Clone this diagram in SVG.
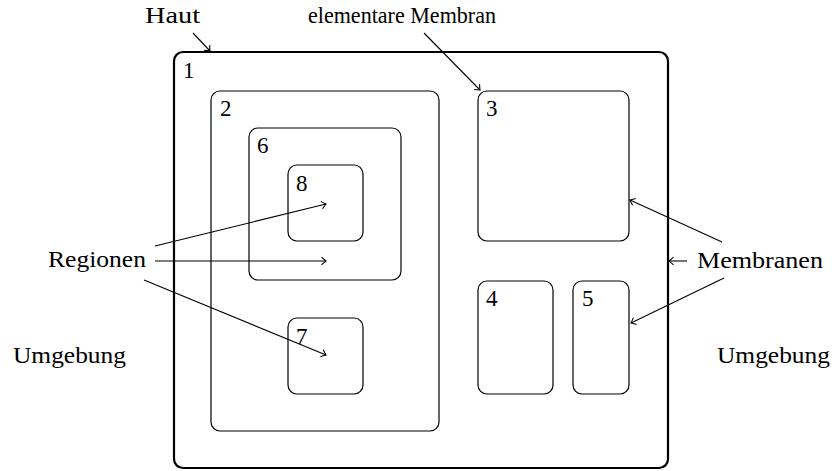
<svg xmlns="http://www.w3.org/2000/svg" width="832" height="471" viewBox="0 0 832 471">
<defs>
<style>
text{font-family:"Liberation Serif","DejaVu Serif",serif;font-size:23px;fill:#000}
.m{fill:none;stroke:#000;stroke-width:1.2}
.o{fill:none;stroke:#000;stroke-width:2.2}
.c{fill:none;stroke:#000;stroke-width:1.1;marker-end:url(#ah)}
</style>
<marker id="ah" markerUnits="userSpaceOnUse" markerWidth="12" markerHeight="12" refX="0" refY="0" viewBox="-6 -6 12 12" orient="auto" overflow="visible">
<path d="M-4.5,-3.8 Q-1.2,-0.8 0,0 Q-1.2,0.8 -4.5,3.8" fill="none" stroke="#000" stroke-width="1.1"/>
</marker>
</defs>
<rect width="832" height="471" fill="#fff"/>
<g id="n1"><rect class="o" x="174" y="52" width="494" height="416" rx="9"/><text x="183" y="78">1</text></g>
<g id="n2"><rect class="m" x="211" y="91" width="228" height="340" rx="9"/><text x="220" y="116">2</text></g>
<g id="n6"><rect class="m" x="249" y="128" width="152" height="152" rx="9"/><text x="257" y="153">6</text></g>
<g id="n8"><rect class="m" x="288" y="165" width="75" height="76" rx="9"/><text x="296" y="191">8</text></g>
<g id="n7"><rect class="m" x="288" y="318" width="75" height="76" rx="9"/><text x="296" y="344">7</text></g>
<g id="n3"><rect class="m" x="478" y="91" width="151" height="150" rx="9"/><text x="486" y="116">3</text></g>
<g id="n4"><rect class="m" x="478" y="281" width="75" height="113" rx="9"/><text x="486" y="306">4</text></g>
<g id="n5"><rect class="m" x="573" y="281" width="56" height="113" rx="9"/><text x="582" y="306">5</text></g>
<g id="labels">
<text x="145" y="23" textLength="55" lengthAdjust="spacingAndGlyphs">Haut</text>
<text x="308" y="23" textLength="188" lengthAdjust="spacingAndGlyphs">elementare Membran</text>
<text x="48" y="267" textLength="98" lengthAdjust="spacingAndGlyphs">Regionen</text>
<text x="697" y="268" textLength="126" lengthAdjust="spacingAndGlyphs">Membranen</text>
<text x="13" y="363" textLength="113" lengthAdjust="spacingAndGlyphs">Umgebung</text>
<text x="717" y="363" textLength="113" lengthAdjust="spacingAndGlyphs">Umgebung</text>
</g>
<g id="connectors">
<line class="c" x1="193" y1="33" x2="210" y2="51"/>
<line class="c" x1="424" y1="33" x2="480" y2="90"/>
<line class="c" x1="155" y1="246" x2="326" y2="204"/>
<line class="c" x1="155" y1="261" x2="326" y2="261"/>
<line class="c" x1="144" y1="280" x2="326" y2="355"/>
<line class="c" x1="722" y1="242" x2="630" y2="200"/>
<line class="c" x1="687" y1="261" x2="669" y2="261"/>
<line class="c" x1="724" y1="278" x2="631" y2="323"/>
</g>
</svg>
